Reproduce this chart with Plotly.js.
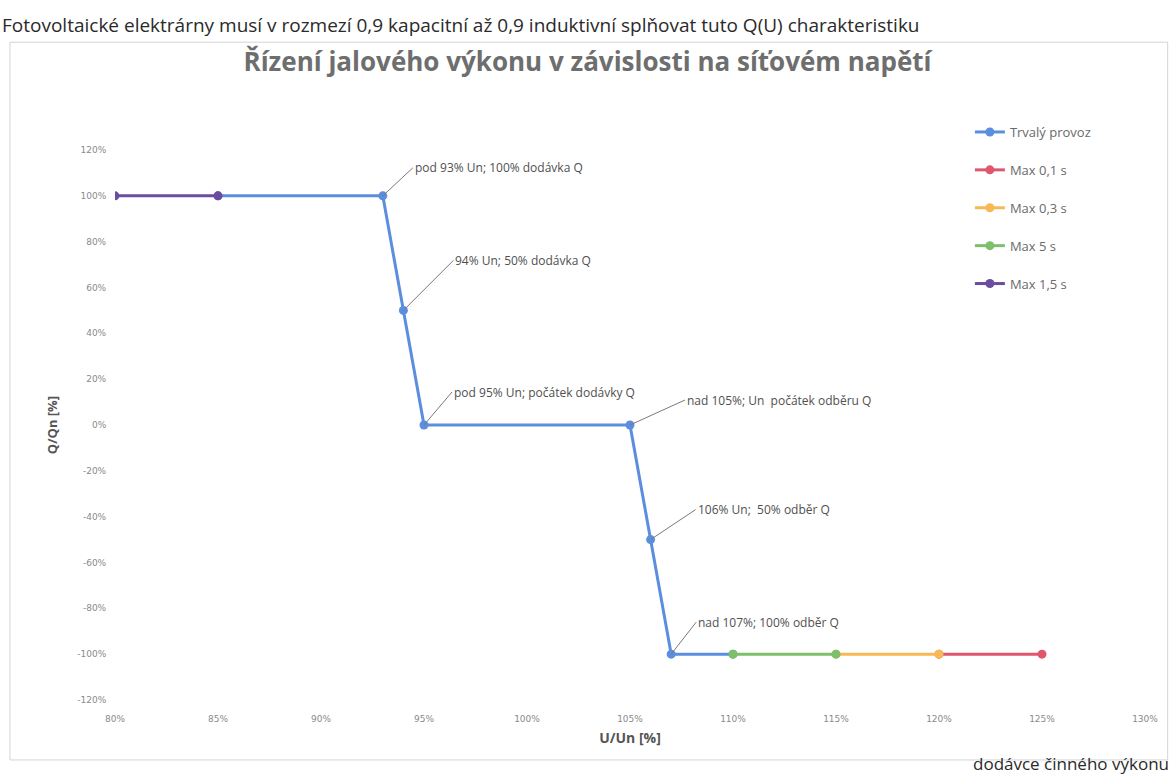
<!DOCTYPE html>
<html>
<head>
<meta charset="utf-8">
<script src="https://cdn.plot.ly/plotly-3.0.1.min.js"></script>
<style>html,body{margin:0;padding:0;background:#fff;}#chart{width:1175px;height:777px;}</style>
</head>
<body>
<div id="chart"></div>
<script>
// Data (U/Un in %, Q/Qn in %)
const seriesNames = ["Trvalý provoz", "Max 0,1 s", "Max 0,3 s", "Max 5 s", "Max 1,5 s"];
const trvalyX = [85, 93, 94, 95, 105, 106, 107, 110];
const trvalyY = [100, 100, 50, 0, 0, -50, -100, -100];
const max01X = [120, 125];
const max01Y = [-100, -100];
const max03X = [115, 120];
const max03Y = [-100, -100];
const max5X = [110, 115];
const max5Y = [-100, -100];
const max15X = [80, 85];
const max15Y = [100, 100];
const yTickVals = [-120, -100, -80, -60, -40, -20, 0, 20, 40, 60, 80, 100, 120];
const yTickText = ["-120%", "-100%", "-80%", "-60%", "-40%", "-20%", "0%", "20%", "40%", "60%", "80%", "100%", "120%"];
const labelX = [93, 94, 95, 105, 106, 107];
const labelY = [100, 50, 0, 0, -50, -100];
const labelTexts = [
  "pod 93% Un; 100% dodávka Q",
  "94% Un; 50% dodávka Q",
  "pod 95% Un; počátek dodávky Q",
  "nad 105%; Un&nbsp; počátek odběru Q",
  "106% Un;&nbsp; 50% odběr Q",
  "nad 107%; 100% odběr Q"
];
const colors = ["#5b8ede", "#e0566e", "#f7b955", "#7dbf6a", "#6b4c9e"];

const xs = [trvalyX, max01X, max03X, max5X, max15X];
const ys = [trvalyY, max01Y, max03Y, max5Y, max15Y];

const traces = seriesNames.map((n, i) => ({
  x: xs[i], y: ys[i], name: n, type: "scatter", mode: "lines+markers",
  line: {color: colors[i], width: 3},
  marker: {color: colors[i], size: 9},
  legendgroup: "g" + i,
  hoverinfo: "x+y+name"
}));
const offsets = [[30, -28], [50, -50], [28, -33], [55, -25], [45, -30], [25, -32]];
const annotations = labelX.map((x, i) => ({
  x: x, y: labelY[i], xref: "x", yref: "y",
  text: labelTexts[i], showarrow: true, arrowhead: 0, arrowwidth: 1, arrowcolor: "#7a7a7a",
  ax: offsets[i][0], ay: offsets[i][1], xanchor: "left", yanchor: "middle",
  font: {family: "Open Sans, sans-serif", size: 12, color: "#505050"}
}));
annotations.push({
  xref: "paper", yref: "paper", x: -0.112, y: 1.227, xanchor: "left", yanchor: "middle",
  text: "Fotovoltaické elektrárny musí v rozmezí 0,9 kapacitní až 0,9 induktivní splňovat tuto Q(U) charakteristiku",
  showarrow: false, font: {family: "Open Sans, sans-serif", size: 19, color: "#2a2a2a"}
});
annotations.push({
  xref: "paper", yref: "paper", x: 1.025, y: -0.115, xanchor: "right", yanchor: "middle",
  text: "dodávce činného výkonu",
  showarrow: false, font: {family: "Open Sans, sans-serif", size: 17, color: "#2a2a2a"}
});

const layout = {
  width: 1175, height: 777,
  margin: {l: 115, r: 30, t: 150, b: 77},
  paper_bgcolor: "#ffffff", plot_bgcolor: "#ffffff",
  title: {text: "<b>Řízení jalového výkonu v závislosti na síťovém napětí</b>",
    x: 0.5, xanchor: "center", y: 0.92, yanchor: "middle",
    font: {family: "Open Sans, sans-serif", size: 26, color: "#6e6e6e"}},
  xaxis: {range: [80, 130], dtick: 5, tick0: 80, ticksuffix: "%", showgrid: false, zeroline: false,
    showline: false, ticks: "outside", ticklen: 10, tickcolor: "rgba(0,0,0,0)",
    tickfont: {family: "DejaVu Sans, sans-serif", size: 9, color: "#8a8a8a"},
    title: {text: "<b>U/Un [%]</b>", standoff: 10, font: {family: "Open Sans, sans-serif", size: 14, color: "#555"}}},
  yaxis: {range: [-120, 120], tickmode: "array", tickvals: yTickVals, ticktext: yTickText,
    showgrid: false, zeroline: false, showline: false, ticks: "outside", ticklen: 6, tickcolor: "rgba(0,0,0,0)",
    tickfont: {family: "DejaVu Sans, sans-serif", size: 9, color: "#8a8a8a"},
    title: {text: "<b>Q/Qn [%]</b>", standoff: 16, font: {family: "Open Sans, sans-serif", size: 13, color: "#555"}}},
  legend: {x: 0.83, y: 1.06, xanchor: "left", yanchor: "top", bgcolor: "rgba(255,255,255,0)",
    tracegroupgap: 18, font: {family: "Open Sans, sans-serif", size: 13, color: "#6a6a6a"}},
  showlegend: true,
  annotations: annotations,
  shapes: [{type: "rect", xref: "paper", yref: "paper", x0: -0.102, x1: 1.022, y0: -0.109, y1: 1.196,
    line: {color: "#d4d4d4", width: 1}, layer: "below"}]
};
Plotly.newPlot("chart", traces, layout, {displayModeBar: false, staticPlot: true});
</script>
</body>
</html>
